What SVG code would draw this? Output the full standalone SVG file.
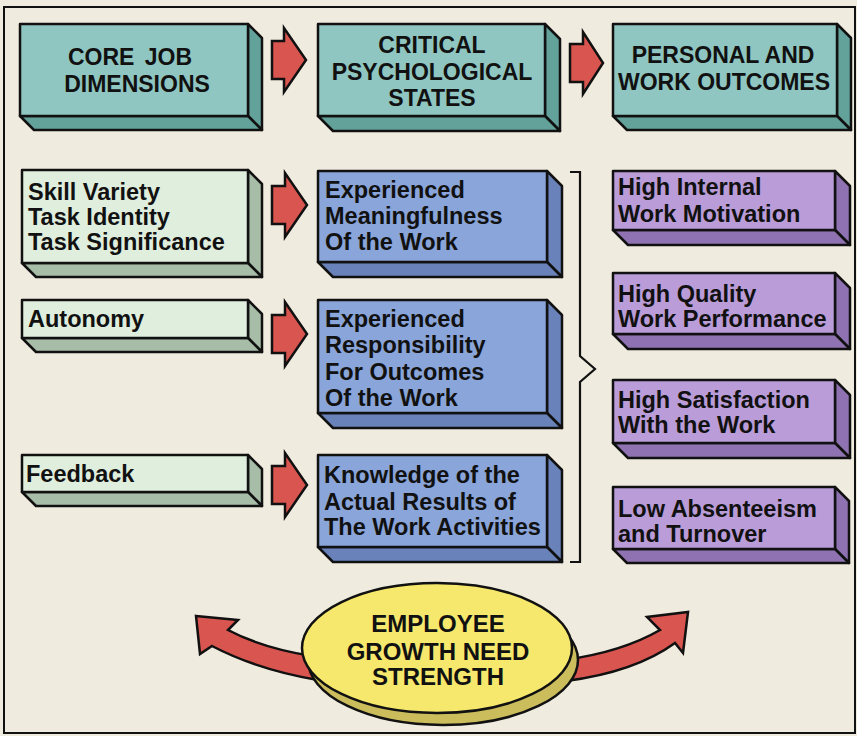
<svg xmlns="http://www.w3.org/2000/svg" width="857" height="736" viewBox="0 0 857 736">
<defs>
<style>
.bg{fill:#f0ebdf}
.frame{fill:none;stroke:#111;stroke-width:2}
.e{stroke:#111;stroke-width:2.5;stroke-linejoin:round}
.tf{fill:#8fc6c1}.ts{fill:#63a29a}
.gf{fill:#e0eedd}.gs{fill:#a8bda8}
.bf{fill:#8aa5d9}.bs{fill:#6982ba}
.pf{fill:#b99cd8}.ps{fill:#8f72b2}
.ar{fill:#d9554f;stroke:#111;stroke-width:2.5;stroke-linejoin:miter}
.hd{font-family:"Liberation Sans",Arial,sans-serif;font-weight:bold;font-size:23px;fill:#111;text-anchor:middle}
.el{font-family:"Liberation Sans",Arial,sans-serif;font-weight:bold;font-size:24px;fill:#111;text-anchor:middle}
.tx{font-family:"Liberation Sans",Arial,sans-serif;font-weight:bold;font-size:23.5px;fill:#111}
.br{fill:none;stroke:#111;stroke-width:2.2}
</style>
</defs>
<rect class="bg" x="0" y="0" width="857" height="736"/>
<rect class="frame" x="4" y="7" width="851" height="726"/>

<g id="connectors">
  <path class="ar" d="M272,41 H284 V28 L306,60 L284,92 V79 H272 Z"/>
  <path class="ar" d="M570,44 H583 V32 L603,63 L583,94 V82 H570 Z"/>
  <path class="ar" d="M272,186 H285 V173 L307,205 L285,237 V224 H272 Z"/>
  <path class="ar" d="M272,315 H285 V302 L307,334 L285,366 V353 H272 Z"/>
  <path class="ar" d="M272,466 H285 V453 L307,485 L285,517 V504 H272 Z"/>
  <path class="br" d="M570,172 H580 V356 L595,369 L580,382 V562 H570"/>
  <path class="ar" d="M196,616 L238,620 L228,630 Q262,648 312,656 L318,680 Q258,670 212,646 L200,654 Z"/>
  <path class="ar" d="M688,612 L683,653 L675,643 Q635,672 566,681 L564,660 Q622,652 660,630 L647,617 Z"/>
</g>

<g id="core-job-dimensions">
  <polygon class="e ts" points="248,24 262,38 262,130 248,116"/>
  <polygon class="e ts" points="20,116 248,116 262,130 34,130"/>
  <rect class="e tf" x="20" y="24" width="228" height="92"/>
  <text class="hd" x="130" y="65" word-spacing="4">CORE JOB</text>
  <text class="hd" x="137" y="92">DIMENSIONS</text>
</g>
<g id="critical-psychological-states">
  <polygon class="e ts" points="545,24 560,39 560,131 545,116"/>
  <polygon class="e ts" points="318,116 545,116 560,131 333,131"/>
  <rect class="e tf" x="318" y="24" width="227" height="92"/>
  <text class="hd" x="432" y="53">CRITICAL</text>
  <text class="hd" x="432" y="80">PSYCHOLOGICAL</text>
  <text class="hd" x="432" y="106">STATES</text>
</g>
<g id="personal-and-work-outcomes">
  <polygon class="e ts" points="837,24 851,38 851,130 837,116"/>
  <polygon class="e ts" points="613,116 837,116 851,130 627,130"/>
  <rect class="e tf" x="613" y="24" width="224" height="92"/>
  <text class="hd" x="723" y="63">PERSONAL AND</text>
  <text class="hd" x="724" y="90">WORK OUTCOMES</text>
</g>

<g id="skill-variety">
  <polygon class="e gs" points="248,170 262,184 262,277 248,263"/>
  <polygon class="e gs" points="22,263 248,263 262,277 36,277"/>
  <rect class="e gf" x="22" y="170" width="226" height="93"/>
  <text class="tx" x="28" y="200">Skill Variety</text>
  <text class="tx" x="28" y="225">Task Identity</text>
  <text class="tx" x="28" y="250">Task Significance</text>
</g>
<g id="autonomy">
  <polygon class="e gs" points="248,300 262,314 262,352 248,338"/>
  <polygon class="e gs" points="22,338 248,338 262,352 36,352"/>
  <rect class="e gf" x="22" y="300" width="226" height="38"/>
  <text class="tx" x="28" y="327">Autonomy</text>
</g>
<g id="feedback">
  <polygon class="e gs" points="248,455 262,469 262,506 248,492"/>
  <polygon class="e gs" points="22,492 248,492 262,506 36,506"/>
  <rect class="e gf" x="22" y="455" width="226" height="37"/>
  <text class="tx" x="26" y="482">Feedback</text>
</g>

<g id="experienced-meaningfulness">
  <polygon class="e bs" points="547,171 562,186 562,277 547,262"/>
  <polygon class="e bs" points="318,262 547,262 562,277 333,277"/>
  <rect class="e bf" x="318" y="171" width="229" height="91"/>
  <text class="tx" x="325" y="198">Experienced</text>
  <text class="tx" x="325" y="224">Meaningfulness</text>
  <text class="tx" x="325" y="250">Of the Work</text>
</g>
<g id="experienced-responsibility">
  <polygon class="e bs" points="547,300 562,315 562,428 547,413"/>
  <polygon class="e bs" points="318,413 547,413 562,428 333,428"/>
  <rect class="e bf" x="318" y="300" width="229" height="113"/>
  <text class="tx" x="325" y="327">Experienced</text>
  <text class="tx" x="325" y="353">Responsibility</text>
  <text class="tx" x="325" y="380">For Outcomes</text>
  <text class="tx" x="325" y="406">Of the Work</text>
</g>
<g id="knowledge-of-results">
  <polygon class="e bs" points="547,455 562,470 562,562 547,547"/>
  <polygon class="e bs" points="318,547 547,547 562,562 333,562"/>
  <rect class="e bf" x="318" y="455" width="229" height="92"/>
  <text class="tx" x="324" y="483">Knowledge of the</text>
  <text class="tx" x="324" y="510">Actual Results of</text>
  <text class="tx" x="324" y="535">The Work Activities</text>
</g>

<g id="high-internal-work-motivation">
  <polygon class="e ps" points="835,171 850,186 850,245 835,230"/>
  <polygon class="e ps" points="613,230 835,230 850,245 628,245"/>
  <rect class="e pf" x="613" y="171" width="222" height="59"/>
  <text class="tx" x="618" y="195">High Internal</text>
  <text class="tx" x="618" y="222">Work Motivation</text>
</g>
<g id="high-quality-work-performance">
  <polygon class="e ps" points="835,273 850,288 850,349 835,334"/>
  <polygon class="e ps" points="613,334 835,334 850,349 628,349"/>
  <rect class="e pf" x="613" y="273" width="222" height="61"/>
  <text class="tx" x="618" y="302">High Quality</text>
  <text class="tx" x="618" y="327">Work Performance</text>
</g>
<g id="high-satisfaction">
  <polygon class="e ps" points="835,380 850,395 850,458 835,443"/>
  <polygon class="e ps" points="613,443 835,443 850,458 628,458"/>
  <rect class="e pf" x="613" y="380" width="222" height="63"/>
  <text class="tx" x="618" y="408">High Satisfaction</text>
  <text class="tx" x="618" y="433">With the Work</text>
</g>
<g id="low-absenteeism">
  <polygon class="e ps" points="835,487 849,501 849,563 835,549"/>
  <polygon class="e ps" points="613,549 835,549 849,563 627,563"/>
  <rect class="e pf" x="613" y="487" width="222" height="62"/>
  <text class="tx" x="618" y="517">Low Absenteeism</text>
  <text class="tx" x="618" y="542">and Turnover</text>
</g>

<g id="employee-growth-need-strength">
  <ellipse class="e" cx="443" cy="660" rx="135" ry="65" fill="#cbbd5c"/>
  <ellipse class="e" cx="437" cy="648" rx="135" ry="65" fill="#f6e86c"/>
  <text class="el" x="438" y="632">EMPLOYEE</text>
  <text class="el" x="438" y="660">GROWTH NEED</text>
  <text class="el" x="438" y="685">STRENGTH</text>
</g>
</svg>
